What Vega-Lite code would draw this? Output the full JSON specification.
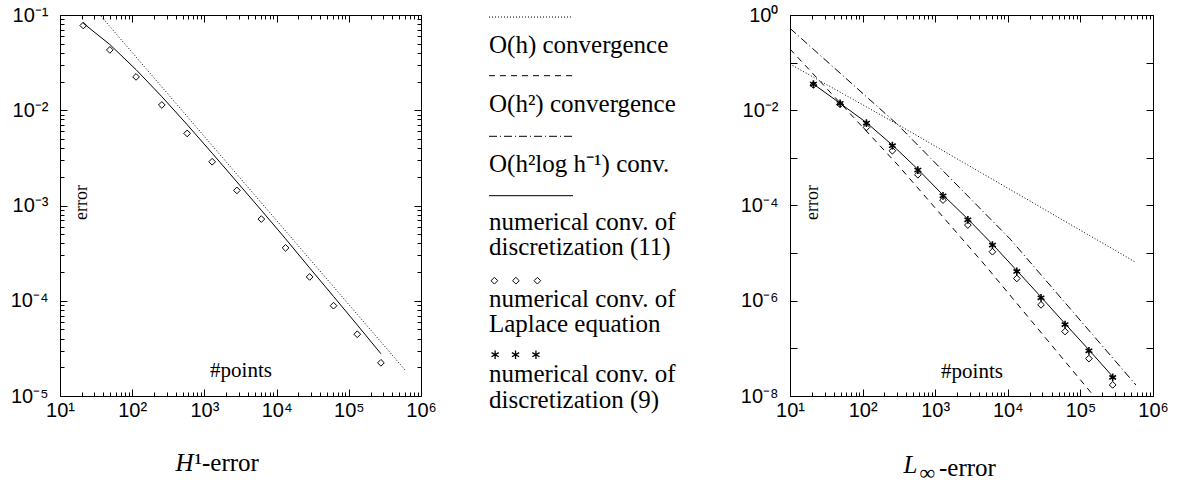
{
  "$schema": "https://vega.github.io/schema/vega-lite/v6.json",
  "background": "white",
  "padding": {"left": 10, "top": 5, "right": 0, "bottom": 0},
  "spacing": 51,
  "config": {
    "view": {"stroke": null},
    "axis": {"grid": false, "domainColor": "#000", "domainWidth": 1, "tickColor": "#000", "tickWidth": 1, "labelColor": "#000", "labelFont": "Liberation Sans", "labelFontSize": 20, "labelOverlap": false, "labelFlush": false, "labelBound": false, "titleFont": "Liberation Serif", "titleFontWeight": "normal", "titleColor": "#000", "titlePadding": 0}
  },
  "datasets": {
    "h1": [
      {"N": 21, "laplace": 0.0776, "disc11": 0.0820},
      {"N": 49, "laplace": 0.0430, "disc11": 0.0490},
      {"N": 113, "laplace": 0.0224, "disc11": 0.0267},
      {"N": 257, "laplace": 0.01137, "disc11": 0.0139},
      {"N": 577, "laplace": 0.00571, "disc11": 0.00706},
      {"N": 1281, "laplace": 0.00288, "disc11": 0.00354},
      {"N": 2817, "laplace": 0.00144, "disc11": 0.00177},
      {"N": 6145, "laplace": 0.000720, "disc11": 0.000891},
      {"N": 13313, "laplace": 0.000359, "disc11": 0.000447},
      {"N": 28673, "laplace": 0.000178, "disc11": 0.000221},
      {"N": 61441, "laplace": 0.0000887, "disc11": 0.000111},
      {"N": 131073, "laplace": 0.0000445, "disc11": 0.0000557},
      {"N": 278529, "laplace": 0.0000223, "disc11": 0.0000278}
    ],
    "linf": [
      {"N": 21, "laplace": 0.034, "disc11": 0.0355, "disc9": 0.0355},
      {"N": 49, "laplace": 0.0133, "disc11": 0.0140, "disc9": 0.01396},
      {"N": 113, "laplace": 0.00437, "disc11": 0.0055, "disc9": 0.00538},
      {"N": 257, "laplace": 0.00141, "disc11": 0.00186, "disc9": 0.0018},
      {"N": 577, "laplace": 0.000442, "disc11": 0.000575, "disc9": 0.000555},
      {"N": 1281, "laplace": 0.00013, "disc11": 0.000166, "disc9": 0.00016},
      {"N": 2817, "laplace": 0.0000389, "disc11": 0.000052, "disc9": 0.0000501},
      {"N": 6145, "laplace": 0.0000107, "disc11": 0.0000154, "disc9": 0.0000148},
      {"N": 13313, "laplace": 0.00000294, "disc11": 0.0000043, "disc9": 0.00000412},
      {"N": 28673, "laplace": 0.00000082, "disc11": 0.0000012, "disc9": 0.00000115},
      {"N": 61441, "laplace": 0.000000226, "disc11": 0.00000033, "disc9": 0.000000316},
      {"N": 131073, "laplace": 0.000000061, "disc11": 0.000000093, "disc9": 0.0000000891},
      {"N": 278529, "laplace": 0.0000000171, "disc11": 0.0000000256, "disc9": 0.0000000246}
    ],
    "ref_h1": [
      {"N": 10, "oh": 0.308},
      {"N": 603000, "oh": 0.0000187}
    ],
    "ref_linf": [
      {"series": "oh", "N": 10, "err": 0.0933},
      {"series": "oh", "N": 298, "err": 0.00513},
      {"series": "oh", "N": 583000, "err": 0.00000638},
      {"series": "oh2", "N": 10, "err": 0.193},
      {"series": "oh2", "N": 298, "err": 0.000741},
      {"series": "oh2", "N": 5160, "err": 0.00000501},
      {"series": "oh2", "N": 149000, "err": 0.0000000105},
      {"series": "oh2", "N": 583000, "err": 0.00000000085},
      {"series": "oh2log", "N": 10, "err": 0.525},
      {"series": "oh2log", "N": 298, "err": 0.00513},
      {"series": "oh2log", "N": 10800, "err": 0.0000197},
      {"series": "oh2log", "N": 583000, "err": 0.000000017}
    ],
    "legend": [
      {"slot": 0, "part": "line", "series": "O(h)"},
      {"slot": 1, "part": "text", "text": "O(h) convergence"},
      {"slot": 2, "part": "line", "series": "O(h2)"},
      {"slot": 3, "part": "text", "text": "O(h²) convergence"},
      {"slot": 4, "part": "line", "series": "O(h2log)"},
      {"slot": 5, "part": "text", "text": "O(h²log h⁻¹) conv."},
      {"slot": 6, "part": "line", "series": "disc11"},
      {"slot": 7, "part": "text", "text": "numerical conv. of"},
      {"slot": 8, "part": "text", "text": "discretization (11)"},
      {"slot": 9, "part": "diamond", "k": 0},
      {"slot": 9, "part": "diamond", "k": 1},
      {"slot": 9, "part": "diamond", "k": 2},
      {"slot": 10, "part": "text", "text": "numerical conv. of"},
      {"slot": 11, "part": "text", "text": "Laplace equation"},
      {"slot": 12, "part": "star", "k": 0},
      {"slot": 12, "part": "star", "k": 1},
      {"slot": 12, "part": "star", "k": 2},
      {"slot": 13, "part": "text", "text": "numerical conv. of"},
      {"slot": 14, "part": "text", "text": "discretization (9)"}
    ]
  },
  "hconcat": [
    {
      "width": 361,
      "height": 381,
      "layer": [
        {
          "data": {"name": "ref_h1"},
          "mark": {"type": "line", "clip": true, "color": "#000", "strokeWidth": 1, "strokeDash": [1, 2]},
          "encoding": {
            "x": {"field": "N", "type": "quantitative", "scale": {"type": "log", "domain": [10, 1000000]},
              "axis": {"orient": "bottom",
                "values": [10,20,30,40,50,60,70,80,90,100,200,300,400,500,600,700,800,900,1000,2000,3000,4000,5000,6000,7000,8000,9000,10000,20000,30000,40000,50000,60000,70000,80000,90000,100000,200000,300000,400000,500000,600000,700000,800000,900000,1000000],
                "labelExpr": "indexof([10,100,1000,10000,100000,1000000], datum.value) >= 0 ? ['10¹','10²','10³','10⁴','10⁵','10⁶'][indexof([10,100,1000,10000,100000,1000000], datum.value)] : ''",
                "tickSize": {"condition": {"test": "indexof([10,100,1000,10000,100000,1000000], datum.value) >= 0", "value": -7}, "value": -4},
                "labelPadding": 11,
                "title": "#points", "titleFontSize": 21, "titleX": 180.5, "titleY": -20, "titleAlign": "center", "titleBaseline": "alphabetic", "titleAngle": 0}},
            "y": {"field": "oh", "type": "quantitative", "scale": {"type": "log", "domain": [0.00001, 0.1]},
              "axis": {"orient": "left",
                "values": [0.00001,0.00002,0.00003,0.00004,0.00005,0.00006,0.00007,0.00008,0.00009,0.0001,0.0002,0.0003,0.0004,0.0005,0.0006,0.0007,0.0008,0.0009,0.001,0.002,0.003,0.004,0.005,0.006,0.007,0.008,0.009,0.01,0.02,0.03,0.04,0.05,0.06,0.07,0.08,0.09,0.1],
                "labelExpr": "indexof([0.1,0.01,0.001,0.0001,0.00001], datum.value) >= 0 ? ['10⁻¹','10⁻²','10⁻³','10⁻⁴','10⁻⁵'][indexof([0.1,0.01,0.001,0.0001,0.00001], datum.value)] : ''",
                "tickSize": {"condition": {"test": "indexof([0.1,0.01,0.001,0.0001,0.00001], datum.value) >= 0", "value": -7}, "value": -4},
                "labelPadding": 19,
                "title": "error", "titleFontSize": 18, "titleX": 21, "titleY": 187, "titleAngle": 270, "titleAlign": "center", "titleBaseline": "middle"}}
          }
        },
        {
          "data": {"name": "h1"},
          "mark": {"type": "line", "color": "#000", "strokeWidth": 1},
          "encoding": {
            "x": {"field": "N", "type": "quantitative", "scale": {"type": "log", "domain": [10, 1000000]},
              "axis": {"orient": "top", "labels": false,
                "values": [10,20,30,40,50,60,70,80,90,100,200,300,400,500,600,700,800,900,1000,2000,3000,4000,5000,6000,7000,8000,9000,10000,20000,30000,40000,50000,60000,70000,80000,90000,100000,200000,300000,400000,500000,600000,700000,800000,900000,1000000],
                "tickSize": {"condition": {"test": "indexof([10,100,1000,10000,100000,1000000], datum.value) >= 0", "value": -7}, "value": -4},
                "title": "H", "titleFontStyle": "italic", "titleFontSize": 25, "titleX": 115, "titleY": 455, "titleAngle": 0, "titleAlign": "left", "titleBaseline": "alphabetic"}},
            "y": {"field": "disc11", "type": "quantitative", "scale": {"type": "log", "domain": [0.00001, 0.1]},
              "axis": {"orient": "right", "labels": false,
                "values": [0.00001,0.00002,0.00003,0.00004,0.00005,0.00006,0.00007,0.00008,0.00009,0.0001,0.0002,0.0003,0.0004,0.0005,0.0006,0.0007,0.0008,0.0009,0.001,0.002,0.003,0.004,0.005,0.006,0.007,0.008,0.009,0.01,0.02,0.03,0.04,0.05,0.06,0.07,0.08,0.09,0.1],
                "tickSize": {"condition": {"test": "indexof([0.1,0.01,0.001,0.0001,0.00001], datum.value) >= 0", "value": -7}, "value": -4},
                "title": "¹-error", "titleFontSize": 25, "titleX": -227, "titleY": 455, "titleAngle": 0, "titleAlign": "left", "titleBaseline": "alphabetic"}}
          }
        },
        {
          "data": {"name": "h1"},
          "mark": {"type": "point", "shape": "diamond", "filled": false, "size": 45, "color": "#000", "strokeWidth": 1, "opacity": 1},
          "encoding": {
            "x": {"field": "N", "type": "quantitative", "scale": {"type": "log", "domain": [10, 1000000]}, "axis": null},
            "y": {"field": "laplace", "type": "quantitative", "scale": {"type": "log", "domain": [0.00001, 0.1]}, "axis": null}
          }
        }
      ],
      "resolve": {"axis": {"x": "independent", "y": "independent"}}
    },
    {
      "width": 200,
      "height": 381,
      "data": {"name": "legend"},
      "layer": [
        {
          "transform": [{"filter": "datum.part == 'line'"}],
          "mark": {"type": "rule", "color": "#000", "strokeWidth": 1},
          "encoding": {
            "x": {"datum": 0, "type": "quantitative", "scale": {"domain": [0, 1], "nice": false, "zero": false}, "axis": null},
            "x2": {"datum": 0.42},
            "y": {"field": "slot", "type": "quantitative", "scale": {"domain": [0,1,2,3,4,5,6,7,8,9,10,11,12,13,14], "range": [2,38,60.7,97,121.3,157,180.7,214.7,239.7,265.7,292,317,339.7,367,393], "nice": false, "zero": false}, "axis": null},
            "strokeDash": {"field": "series", "type": "nominal", "scale": {"domain": ["O(h)", "O(h2)", "O(h2log)", "disc11"], "range": [[1, 2], [6, 5], [8, 3, 1, 3], [1, 0]]}, "legend": null}
          }
        },
        {
          "transform": [{"filter": "datum.part == 'text'"}],
          "mark": {"type": "text", "align": "left", "baseline": "alphabetic", "font": "Liberation Serif", "fontSize": 25, "color": "#000"},
          "encoding": {
            "x": {"datum": 0, "type": "quantitative", "scale": {"domain": [0, 1], "nice": false, "zero": false}, "axis": null},
            "y": {"field": "slot", "type": "quantitative", "scale": {"domain": [0,1,2,3,4,5,6,7,8,9,10,11,12,13,14], "range": [2,38,60.7,97,121.3,157,180.7,214.7,239.7,265.7,292,317,339.7,367,393], "nice": false, "zero": false}, "axis": null},
            "text": {"field": "text"}
          }
        },
        {
          "transform": [{"filter": "datum.part == 'diamond'"}],
          "mark": {"type": "point", "shape": "diamond", "filled": false, "size": 45, "color": "#000", "strokeWidth": 1, "opacity": 1},
          "encoding": {
            "x": {"field": "k", "type": "quantitative", "scale": {"domain": [-0.25, 9.05], "nice": false, "zero": false}, "axis": null},
            "y": {"field": "slot", "type": "quantitative", "scale": {"domain": [0,1,2,3,4,5,6,7,8,9,10,11,12,13,14], "range": [2,38,60.7,97,121.3,157,180.7,214.7,239.7,265.7,292,317,339.7,367,393], "nice": false, "zero": false}, "axis": null}
          }
        },
        {
          "transform": [{"filter": "datum.part == 'star'"}],
          "mark": {"type": "point", "shape": "M0,-1L0,1M-0.866,-0.5L0.866,0.5M-0.866,0.5L0.866,-0.5", "filled": false, "size": 70, "color": "#000", "strokeWidth": 1.3, "opacity": 1},
          "encoding": {
            "x": {"field": "k", "type": "quantitative", "scale": {"domain": [-0.3, 9.5], "nice": false, "zero": false}, "axis": null},
            "y": {"field": "slot", "type": "quantitative", "scale": {"domain": [0,1,2,3,4,5,6,7,8,9,10,11,12,13,14], "range": [2,38,60.7,97,121.3,157,180.7,214.7,239.7,265.7,292,317,339.7,367,393], "nice": false, "zero": false}, "axis": null}
          }
        }
      ],
      "resolve": {"scale": {"x": "independent"}}
    },
    {
      "width": 363,
      "height": 381,
      "title": {"text": "-error", "orient": "bottom", "anchor": "start", "frame": "group", "dx": 149, "dy": -31, "font": "Liberation Serif", "fontSize": 25, "fontWeight": "normal", "color": "#000"},
      "layer": [
        {
          "data": {"name": "ref_linf"},
          "transform": [{"filter": "datum.series == 'oh'"}],
          "mark": {"type": "line", "clip": true, "color": "#000", "strokeWidth": 1, "strokeDash": [1, 2]},
          "encoding": {
            "x": {"field": "N", "type": "quantitative", "scale": {"type": "log", "domain": [10, 1000000]},
              "axis": {"orient": "bottom",
                "values": [10,20,30,40,50,60,70,80,90,100,200,300,400,500,600,700,800,900,1000,2000,3000,4000,5000,6000,7000,8000,9000,10000,20000,30000,40000,50000,60000,70000,80000,90000,100000,200000,300000,400000,500000,600000,700000,800000,900000,1000000],
                "labelExpr": "indexof([10,100,1000,10000,100000,1000000], datum.value) >= 0 ? ['10¹','10²','10³','10⁴','10⁵','10⁶'][indexof([10,100,1000,10000,100000,1000000], datum.value)] : ''",
                "tickSize": {"condition": {"test": "indexof([10,100,1000,10000,100000,1000000], datum.value) >= 0", "value": -7}, "value": -4},
                "labelPadding": 11,
                "title": "#points", "titleFontSize": 21, "titleX": 181.5, "titleY": -19, "titleAlign": "center", "titleBaseline": "alphabetic", "titleAngle": 0}},
            "y": {"field": "err", "type": "quantitative", "scale": {"type": "log", "domain": [0.00000001, 1]},
              "axis": {"orient": "left",
                "values": [0.00000001,0.0000001,0.000001,0.00001,0.0001,0.001,0.01,0.1,1],
                "labelExpr": "indexof([1,0.01,0.0001,0.000001,0.00000001], datum.value) >= 0 ? ['10⁰','10⁻²','10⁻⁴','10⁻⁶','10⁻⁸'][indexof([1,0.01,0.0001,0.000001,0.00000001], datum.value)] : ''",
                "tickSize": -7,
                "labelPadding": 19,
                "title": "error", "titleFontSize": 18, "titleX": 22, "titleY": 187, "titleAngle": 270, "titleAlign": "center", "titleBaseline": "middle"}}
          }
        },
        {
          "data": {"name": "ref_linf"},
          "transform": [{"filter": "datum.series == 'oh2'"}],
          "mark": {"type": "line", "clip": true, "color": "#000", "strokeWidth": 1, "strokeDash": [6, 5]},
          "encoding": {
            "x": {"field": "N", "type": "quantitative", "scale": {"type": "log", "domain": [10, 1000000]}, "axis": null},
            "y": {"field": "err", "type": "quantitative", "scale": {"type": "log", "domain": [0.00000001, 1]}, "axis": null}
          }
        },
        {
          "data": {"name": "ref_linf"},
          "transform": [{"filter": "datum.series == 'oh2log'"}],
          "mark": {"type": "line", "clip": true, "color": "#000", "strokeWidth": 1, "strokeDash": [8, 3, 1, 3]},
          "encoding": {
            "x": {"field": "N", "type": "quantitative", "scale": {"type": "log", "domain": [10, 1000000]}, "axis": null},
            "y": {"field": "err", "type": "quantitative", "scale": {"type": "log", "domain": [0.00000001, 1]}, "axis": null}
          }
        },
        {
          "data": {"name": "linf"},
          "mark": {"type": "line", "color": "#000", "strokeWidth": 1},
          "encoding": {
            "x": {"field": "N", "type": "quantitative", "scale": {"type": "log", "domain": [10, 1000000]},
              "axis": {"orient": "top", "labels": false,
                "values": [10,20,30,40,50,60,70,80,90,100,200,300,400,500,600,700,800,900,1000,2000,3000,4000,5000,6000,7000,8000,9000,10000,20000,30000,40000,50000,60000,70000,80000,90000,100000,200000,300000,400000,500000,600000,700000,800000,900000,1000000],
                "tickSize": {"condition": {"test": "indexof([10,100,1000,10000,100000,1000000], datum.value) >= 0", "value": -7}, "value": -4},
                "title": "L", "titleFontStyle": "italic", "titleFontSize": 25, "titleX": 113, "titleY": 457, "titleAngle": 0, "titleAlign": "left", "titleBaseline": "alphabetic"}},
            "y": {"field": "disc11", "type": "quantitative", "scale": {"type": "log", "domain": [0.00000001, 1]},
              "axis": {"orient": "right", "labels": false,
                "values": [0.00000001,0.0000001,0.000001,0.00001,0.0001,0.001,0.01,0.1,1],
                "tickSize": -7,
                "title": "∞", "titleFontSize": 22, "titleX": -234, "titleY": 464, "titleAngle": 0, "titleAlign": "left", "titleBaseline": "alphabetic"}}
          }
        },
        {
          "data": {"name": "linf"},
          "mark": {"type": "point", "shape": "diamond", "filled": false, "size": 45, "color": "#000", "strokeWidth": 1, "opacity": 1},
          "encoding": {
            "x": {"field": "N", "type": "quantitative", "scale": {"type": "log", "domain": [10, 1000000]}, "axis": null},
            "y": {"field": "laplace", "type": "quantitative", "scale": {"type": "log", "domain": [0.00000001, 1]}, "axis": null}
          }
        },
        {
          "data": {"name": "linf"},
          "mark": {"type": "point", "shape": "M0,-1L0,1M-0.866,-0.5L0.866,0.5M-0.866,0.5L0.866,-0.5", "filled": false, "size": 60, "color": "#000", "strokeWidth": 1.6, "opacity": 1},
          "encoding": {
            "x": {"field": "N", "type": "quantitative", "scale": {"type": "log", "domain": [10, 1000000]}, "axis": null},
            "y": {"field": "disc9", "type": "quantitative", "scale": {"type": "log", "domain": [0.00000001, 1]}, "axis": null}
          }
        }
      ],
      "resolve": {"axis": {"x": "independent", "y": "independent"}}
    }
  ]
}
